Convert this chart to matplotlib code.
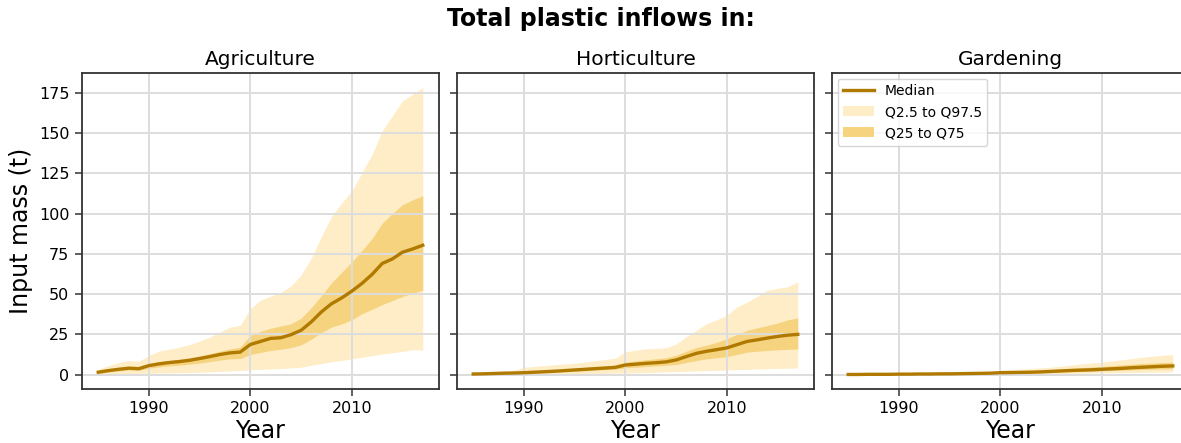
import numpy as np
import matplotlib
matplotlib.use("Agg")
import matplotlib.pyplot as plt

years = list(range(1985, 2018))
panels = ["Agriculture", "Horticulture", "Gardening"]

agri_med = [1.5, 2.5, 3.3, 4.0, 3.7, 5.6, 6.7, 7.5, 8.1, 8.9, 10.0, 11.2, 12.5, 13.5, 14.0, 18.7, 20.6,
            22.5, 22.9, 24.8, 27.5, 32.7, 38.9, 44.0, 47.6, 51.8, 56.6, 62.2, 69.0, 71.8, 76.0, 78.0, 80.3]
agri_q25 = [0.8, 1.6, 2.3, 2.9, 2.7, 4.0, 4.8, 5.4, 5.9, 6.5, 7.2, 8.1, 9.0, 9.8, 10.0, 12.5, 13.8,
            15.0, 15.8, 16.8, 18.5, 22.0, 26.0, 29.5, 31.5, 34.0, 37.8, 40.5, 43.5, 46.0, 48.5, 50.5, 52.4]
agri_q75 = [2.5, 3.5, 4.5, 5.2, 5.0, 6.9, 8.0, 8.8, 9.6, 10.4, 11.6, 13.0, 14.5, 16.0, 17.0, 24.5, 26.8,
            28.8, 30.2, 31.6, 35.0, 41.5, 49.0, 57.0, 63.5, 70.0, 77.0, 84.5, 94.0, 100.0, 105.5, 108.5, 111.0]
agri_q2 = [0.3, 0.5, 0.6, 0.7, 0.7, 0.9, 1.0, 1.1, 1.2, 1.3, 1.5, 1.7, 2.0, 2.3, 2.6, 3.0, 3.3,
           3.5, 3.8, 4.2, 4.6, 5.8, 6.9, 8.0, 8.8, 9.8, 10.8, 11.8, 12.8, 13.6, 14.4, 15.5, 15.2]
agri_q97 = [3.5, 5.5, 7.5, 8.7, 8.3, 11.9, 14.6, 15.8, 17.0, 18.7, 20.8, 23.3, 26.4, 29.5, 30.6, 41.0, 46.2,
            48.7, 51.0, 55.0, 61.8, 72.2, 85.7, 98.2, 106.5, 113.8, 125.3, 136.7, 151.3, 160.6, 170.0, 174.0, 178.3]

hort_med = [0.4, 0.5, 0.7, 0.9, 1.0, 1.2, 1.5, 1.8, 2.1, 2.5, 2.9, 3.3, 3.7, 4.1, 4.5, 6.0, 6.5,
            7.0, 7.4, 7.9, 9.1, 11.2, 13.2, 14.5, 15.5, 16.6, 18.6, 20.6, 21.6, 22.7, 23.7, 24.5, 25.0]
hort_q25 = [0.2, 0.3, 0.4, 0.6, 0.7, 0.8, 1.0, 1.2, 1.5, 1.8, 2.1, 2.4, 2.8, 3.1, 3.4, 4.2, 4.6,
            5.0, 5.4, 5.8, 6.3, 7.5, 8.8, 9.8, 10.5, 11.2, 12.5, 14.0, 14.5, 15.0, 15.4, 15.7, 16.0]
hort_q75 = [0.6, 0.8, 1.0, 1.2, 1.4, 1.7, 2.1, 2.5, 2.9, 3.4, 3.9, 4.4, 4.9, 5.4, 5.9, 7.7, 8.5,
            9.2, 9.8, 10.5, 12.0, 14.5, 16.8, 18.3, 20.0, 22.3, 25.0, 27.5, 29.0, 30.5, 32.0, 34.0, 35.2]
hort_q2 = [0.1, 0.1, 0.2, 0.2, 0.3, 0.3, 0.4, 0.4, 0.5, 0.5, 0.6, 0.7, 0.7, 0.8, 0.9, 1.0, 1.1,
           1.3, 1.5, 1.7, 1.9, 2.1, 2.3, 2.5, 2.7, 2.9, 3.1, 3.3, 3.5, 3.7, 3.9, 4.0, 4.2]
hort_q97 = [0.8, 1.3, 1.8, 2.3, 2.7, 4.6, 5.1, 5.6, 6.1, 6.6, 7.0, 7.8, 8.6, 9.4, 10.2, 14.0, 15.2,
            16.0, 16.3, 16.6, 19.0, 23.5, 27.5, 31.6, 34.0, 36.8, 42.0, 45.0, 48.7, 52.4, 53.5, 54.5, 57.6]

gard_med = [0.1, 0.1, 0.2, 0.2, 0.2, 0.3, 0.3, 0.4, 0.4, 0.5, 0.5, 0.6, 0.7, 0.8, 0.9, 1.2, 1.3,
            1.4, 1.5, 1.7, 2.0, 2.3, 2.6, 2.8, 3.0, 3.3, 3.6, 3.9, 4.3, 4.6, 4.9, 5.2, 5.4]
gard_q25 = [0.0, 0.1, 0.1, 0.1, 0.1, 0.2, 0.2, 0.2, 0.3, 0.3, 0.3, 0.4, 0.4, 0.5, 0.6, 0.8, 0.9,
            1.0, 1.1, 1.2, 1.4, 1.6, 1.8, 2.0, 2.2, 2.4, 2.6, 2.8, 3.0, 3.2, 3.4, 3.5, 3.6]
gard_q75 = [0.2, 0.2, 0.3, 0.3, 0.4, 0.5, 0.5, 0.6, 0.7, 0.8, 0.9, 1.0, 1.1, 1.2, 1.4, 1.8, 2.0,
            2.2, 2.4, 2.6, 3.0, 3.5, 3.9, 4.3, 4.7, 5.1, 5.6, 6.0, 6.5, 6.9, 7.2, 7.5, 7.7]
gard_q2 = [0.0, 0.0, 0.0, 0.1, 0.1, 0.1, 0.1, 0.1, 0.1, 0.2, 0.2, 0.2, 0.2, 0.3, 0.3, 0.4, 0.4,
           0.5, 0.5, 0.6, 0.6, 0.7, 0.8, 0.9, 1.0, 1.0, 1.1, 1.2, 1.3, 1.4, 1.5, 1.6, 1.7]
gard_q97 = [0.3, 0.4, 0.5, 0.6, 0.7, 0.8, 0.9, 1.0, 1.1, 1.3, 1.4, 1.6, 1.8, 2.0, 2.2, 2.8, 3.1,
            3.4, 3.8, 4.2, 4.6, 5.3, 6.0, 6.6, 7.2, 7.7, 8.5, 9.2, 10.0, 10.8, 11.4, 12.0, 12.3]

series = [
    (agri_med, agri_q25, agri_q75, agri_q2, agri_q97),
    (hort_med, hort_q25, hort_q75, hort_q2, hort_q97),
    (gard_med, gard_q25, gard_q75, gard_q2, gard_q97),
]

line_col = "#b07a00"
light_col = "#feedc6"
dark_col = "#f6d37f"

fig = plt.figure(figsize=(11.81, 4.43), dpi=100)
lefts = [82 / 1181, 457 / 1181, 832 / 1181]
axes = []
for i, left in enumerate(lefts):
    if i == 0:
        ax = fig.add_axes([left, 0.1219, 357 / 1181, 0.7133])
    else:
        ax = fig.add_axes([left, 0.1219, 357 / 1181, 0.7133], sharey=axes[0])
    axes.append(ax)

for i, ax in enumerate(axes):
    med, q25, q75, q2, q97 = series[i]
    # grid sits over the bands but under the median line
    ax.grid(True, color="#dddddd", linewidth=1.4, zorder=1.5)
    ax.fill_between(years, q2, q97, color=light_col, linewidth=0, label="Q2.5 to Q97.5", zorder=1)
    ax.fill_between(years, q25, q75, color=dark_col, linewidth=0, label="Q25 to Q75", zorder=1.2)
    ax.plot(years, med, color=line_col, linewidth=2.4, label="Median", zorder=2)
    ax.set_title(panels[i], fontsize=14.5, pad=6)
    ax.set_xlabel("Year", fontsize=17, labelpad=2)
    ax.set_xticks([1990, 2000, 2010])
    ax.tick_params(labelsize=11.5, length=5, width=1.1, color="#333333", pad=4)
    for sp in ax.spines.values():
        sp.set_color("#333333")
        sp.set_linewidth(1.3)
        sp.set_zorder(3)
    ax.set_axisbelow("line")
    if i > 0:
        plt.setp(ax.get_yticklabels(), visible=False)

axes[0].set_yticks([0, 25, 50, 75, 100, 125, 150, 175])
axes[0].set_ylabel("Input mass (t)", fontsize=17, labelpad=4)

h, l = axes[2].get_legend_handles_labels()
order = [2, 0, 1]
axes[2].legend([h[k] for k in order], [l[k] for k in order], loc="upper left", fontsize=10,
               handlelength=2.2, borderaxespad=0.4, framealpha=0.8)

fig.suptitle("Total plastic inflows in:", fontsize=17, fontweight="bold", x=0.509, y=0.985)

fig.savefig("out.png", dpi=100)
